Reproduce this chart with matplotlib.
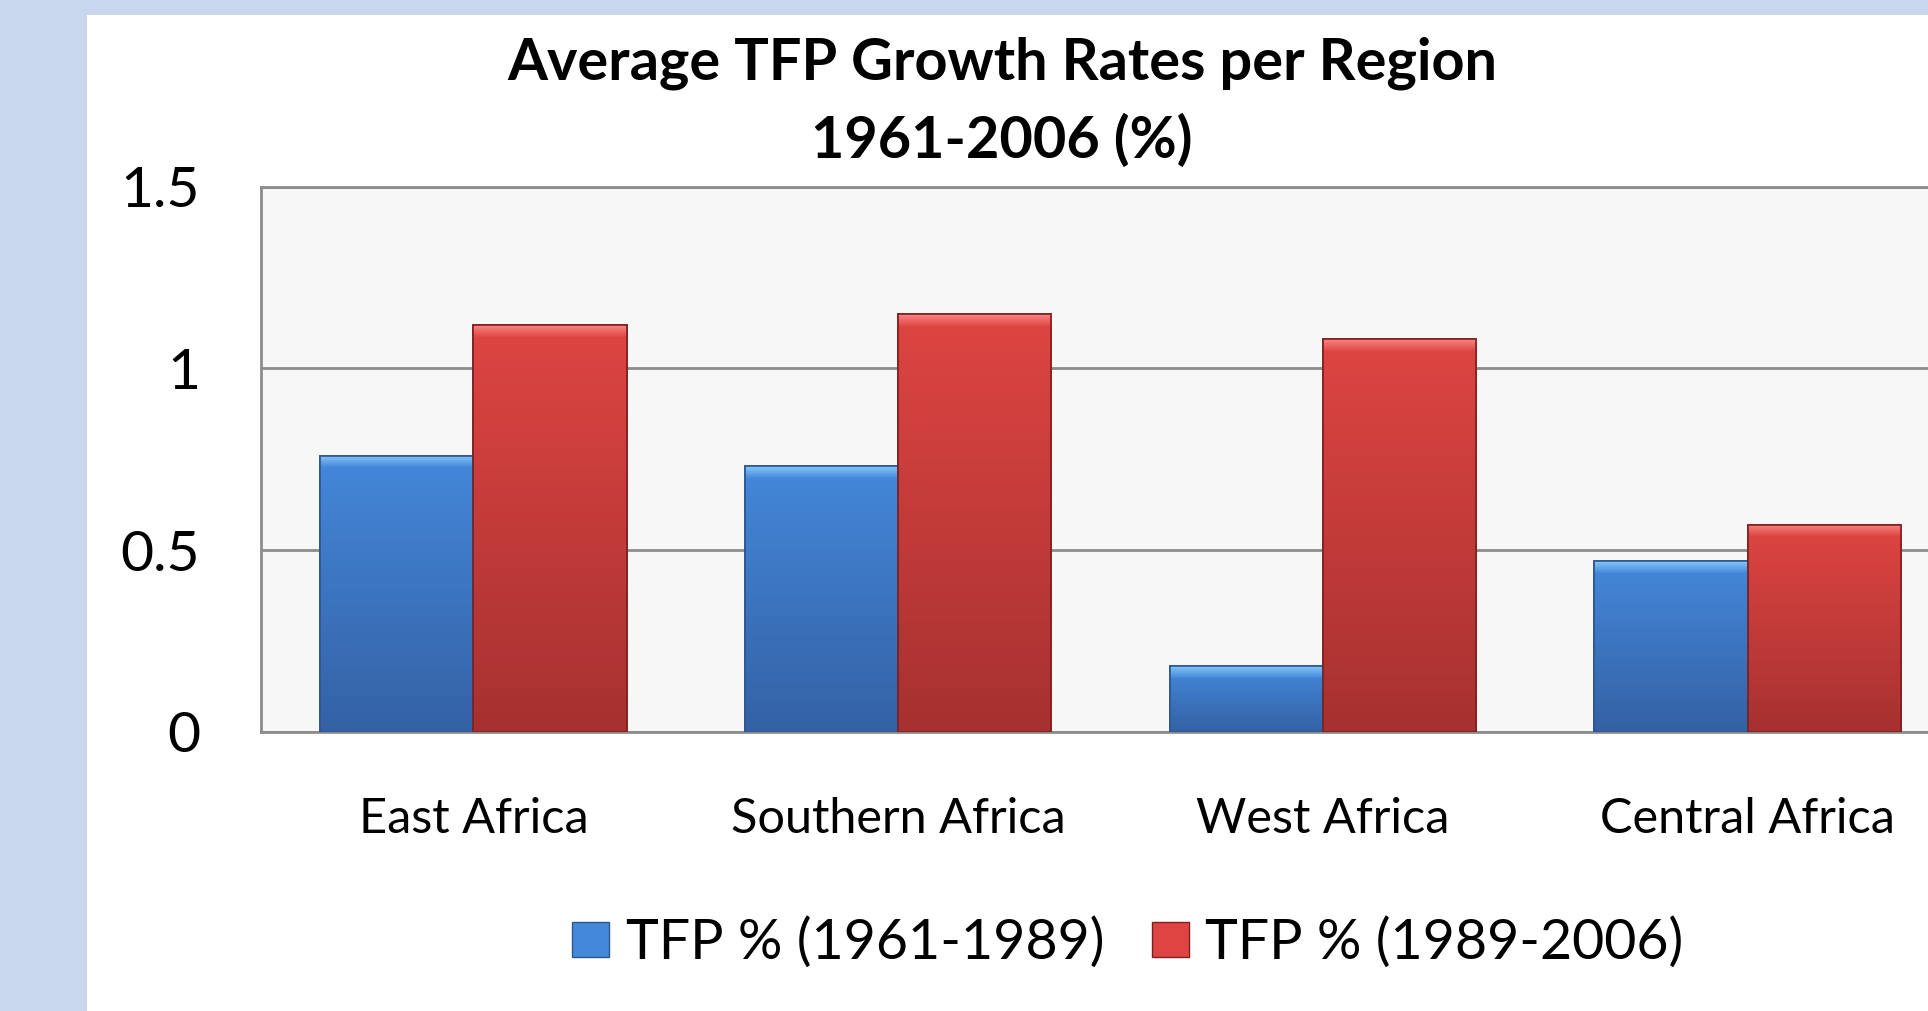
import numpy as np
import matplotlib
matplotlib.use("Agg")
import matplotlib.pyplot as plt
from matplotlib.patches import Rectangle, Patch
from matplotlib.colors import to_rgb

# ---- data ----
categories = ["East Africa", "Southern Africa", "West Africa", "Central Africa"]
series_names = ["TFP % (1961-1989)", "TFP % (1989-2006)"]
tfp_1961_1989 = [0.76, 0.73, 0.18, 0.47]
tfp_1989_2006 = [1.12, 1.15, 1.08, 0.57]
y_ticks = [0, 0.5, 1, 1.5]
y_tick_labels = ["0", "0.5", "1", "1.5"]
title_line1 = "Average TFP Growth Rates per Region"
title_line2 = "1961-2006 (%)"

FONT = ["Lato", "DejaVu Sans"]
plt.rcParams["font.family"] = FONT

W, H = 1928, 1011
fig = plt.figure(figsize=(W / 100, H / 100), dpi=100)
fig.patch.set_facecolor("#C8D6EE")
# white panel
fig.add_artist(Rectangle((87 / W, 0), 1 - 87 / W, 1 - 15 / H,
                         transform=fig.transFigure, facecolor="white",
                         edgecolor="none", zorder=0))

left_px, right_px, top_px, bot_px = 261, 1960, 186.7, 731.7
ax = fig.add_axes([left_px / W, 1 - bot_px / H,
                   (right_px - left_px) / W, (bot_px - top_px) / H])
ax.set_facecolor("#F7F7F7")

x = np.arange(len(categories))
bw = 0.361
styles = [
    dict(top="#4488DA", bot="#3461A4", hi="#86C6F8", edge="#2C5690"),
    dict(top="#DE4542", bot="#A63130", hi="#F98482", edge="#7E2020"),
]
bevel = 12 / (bot_px - top_px) * 1.5

all_bars = []
for i, (vals, st) in enumerate(zip([tfp_1961_1989, tfp_1989_2006], styles)):
    bars = ax.bar(x + (i - 0.5) * bw, vals, width=bw, color=st["top"],
                  edgecolor=st["edge"], linewidth=1.2, zorder=3)
    all_bars.append((bars, st))

for bars, st in all_bars:
    top = np.array(to_rgb(st["top"]))
    bot = np.array(to_rgb(st["bot"]))
    hi = np.array(to_rgb(st["hi"]))
    for rect in bars:
        x0, w, h = rect.get_x(), rect.get_width(), rect.get_height()
        n = 400
        ys = np.linspace(0, h, n)
        t = ys / h
        cols = bot[None, :] + (top - bot)[None, :] * t[:, None]
        m = ys > h - bevel
        if m.any():
            tb = (ys[m] - (h - bevel)) / bevel
            cols[m] = top[None, :] + (hi - top)[None, :] * tb[:, None]
        img = cols[::-1][:, None, :]
        im = ax.imshow(img, extent=[x0, x0 + w, 0, h], aspect="auto",
                       origin="upper", interpolation="bilinear", zorder=3.5)
        im.set_clip_path(rect)
        # outline on top
        ax.add_patch(Rectangle((x0, 0), w, h, facecolor="none",
                               edgecolor=st["edge"], linewidth=1.2, zorder=4))

ax.set_xlim(-0.5, len(categories) - 0.5)
ax.set_ylim(0, 1.5)
ax.set_yticks(y_ticks)
ax.set_yticklabels(y_tick_labels)
ax.set_xticks(x)
ax.set_xticklabels(categories)
ax.yaxis.grid(True, color="#8C8C8C", linewidth=2, zorder=1)
ax.set_axisbelow(True)
for s in ["left", "top", "bottom"]:
    ax.spines[s].set_color("#8C8C8C")
    ax.spines[s].set_linewidth(2)
ax.spines["right"].set_visible(False)
ax.tick_params(axis="y", length=0, pad=44, labelsize=41, colors="black")
ax.tick_params(axis="x", length=0, pad=47, labelsize=35, colors="black")

fig.text(1002 / W, 1 - 80 / H, title_line1, ha="center", va="baseline",
         fontsize=41.5, fontweight="bold", color="black")
fig.text(1002 / W, 1 - 158 / H, title_line2, ha="center", va="baseline",
         fontsize=41.5, fontweight="bold", color="black")

handles = [Patch(facecolor=styles[0]["top"], edgecolor=styles[0]["edge"]),
           Patch(facecolor=styles[1]["top"], edgecolor=styles[1]["edge"])]
fig.legend(handles, series_names, loc="center",
           bbox_to_anchor=(1128 / W, 1 - 943 / H), ncol=2, frameon=False,
           fontsize=40, handlelength=0.66, handleheight=0.6,
           handletextpad=0.3, columnspacing=0.86)

fig.savefig("out.png", dpi=100)
